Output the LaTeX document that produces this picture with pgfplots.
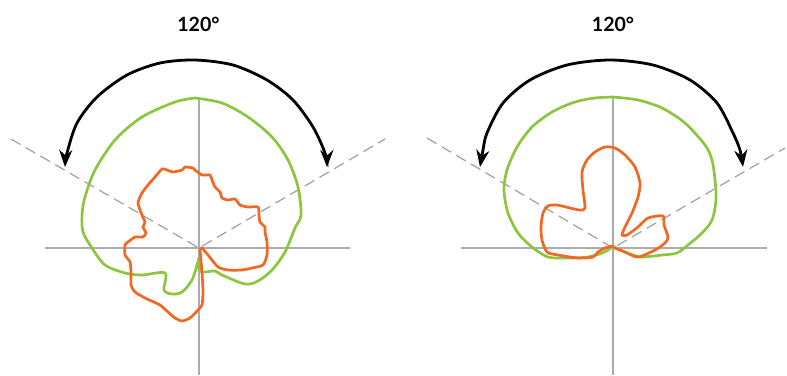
\documentclass[border=0pt]{standalone}
\usepackage{fontspec}
\setmainfont{Lato}
\usepackage{pgfplots}
\pgfplotsset{compat=1.18}
\usetikzlibrary{arrows.meta}

\definecolor{patgreen}{RGB}{140,198,63}
\definecolor{patorange}{RGB}{242,103,34}
\definecolor{axgray}{RGB}{172,172,172}
\definecolor{dashgray}{RGB}{160,160,160}

\begin{document}
\begin{tikzpicture}
\begin{axis}[
    width=393.5pt, height=187.5pt,
    scale only axis,
    xmin=0, xmax=787,
    ymin=0, ymax=375,
    y dir=reverse,
    hide axis,
    clip=false,
]

% frame of the picture (invisible)
\addplot[draw=none, forget plot] coordinates {(0,0) (787,375)};

% ---- left pattern ----
\addplot[axgray, line width=0.8pt] coordinates {(45,248) (350,248)};
\addplot[axgray, line width=0.8pt] coordinates {(199,97) (199,375)};
\addplot[dashgray, line width=0.6pt, dash pattern=on 5.5pt off 3pt]
    coordinates {(11,139) (199,248) (385,139)};

\addplot[patgreen, line width=1.35pt, smooth, tension=0.5] coordinates {
    (195,98) (222,103) (248,117) (272,137) (288,160) (298,187) (301,215)
    (295,228) (285,252) (272,270) (258,281) (245,284) (222,275) (215,271)
    (202,272) (199,266) (199,257) (198,262) (192,280) (182,292) (172,294)
    (164,290) (165,273) (142,275) (125,273) (105,265) (92,248) (83,232)
    (82,215) (85,197) (95,170) (115,140) (142,117) (175,102) (195,98)
};

\addplot[patorange, line width=1.35pt, smooth, tension=0.35] coordinates {
    (200,250) (202,248) (208,255) (218,267) (228,270) (242,270) (252,268)
    (263,265) (267,255) (267,242) (265,232) (265,227) (260,222) (259,215)
    (258,207) (248,207) (240,205) (235,199) (228,200) (222,198) (220,192)
    (215,187) (212,180) (210,175) (202,175) (195,170) (193,168) (185,167)
    (182,170) (173,172) (167,170) (162,169) (155,177) (148,185) (142,193)
    (138,203) (142,215) (145,222) (143,227) (146,233) (143,237) (135,237)
    (128,242) (125,245) (125,255) (130,262) (131,272) (131,285) (135,292)
    (145,298) (160,305) (168,312) (175,318) (182,321) (190,318) (198,310)
    (202,305) (203,292) (202,272) (200,250)
};

\addplot[black, line width=1.4pt, smooth,
    {Stealth[length=8.5pt,width=6.5pt]}-{Stealth[length=8.5pt,width=6.5pt]}] coordinates {
    (65,167) (67,153) (77,123) (97,97) (127,75) (160,63) (195,60) (233,65)
    (267,80) (293,100) (313,127) (325,153) (327,167)
};

\node[font=\fontsize{9.8}{12}\selectfont\bfseries] at (axis cs:198.5,24) {120°};

% ---- right pattern ----
\addplot[axgray, line width=0.8pt] coordinates {(461,248) (767,248)};
\addplot[axgray, line width=0.8pt] coordinates {(613,97) (613,375)};
\addplot[dashgray, line width=0.6pt, dash pattern=on 5.5pt off 3pt]
    coordinates {(427,138) (613,248) (785,148)};

\addplot[patgreen, line width=1.35pt, smooth, tension=0.5] coordinates {
    (613,97) (638,100) (662,108) (685,123) (705,145) (712,160) (715,180)
    (716,200) (712,220) (702,233) (688,245) (677,253) (662,255) (642,257)
    (630,254) (620,250) (613,247) (608,250) (602,253) (588,257) (568,258)
    (548,257) (532,247) (518,233) (508,213) (504,190) (507,170) (517,147)
    (532,127) (552,112) (575,102) (595,98) (613,97)
};

\addplot[patorange, line width=1.35pt, smooth, tension=0.45] coordinates {
    (613,246) (605,248) (598,252) (593,257) (578,258) (558,255) (547,252)
    (542,240) (541,227) (543,213) (548,206) (557,205) (570,208) (580,210)
    (585,208) (583,190) (582,172) (587,160) (595,152) (605,147) (615,148)
    (625,155) (635,167) (640,183) (638,197) (632,213) (625,227) (622,235)
    (627,235) (638,227) (648,218) (663,216) (664,225) (668,237) (665,243)
    (655,250) (638,257) (625,252) (615,248) (613,246)
};

\addplot[black, line width=1.4pt, smooth,
    {Stealth[length=8.5pt,width=6.5pt]}-{Stealth[length=8.5pt,width=6.5pt]}] coordinates {
    (480,167) (483,150) (487,133) (503,103) (530,80) (567,65) (610,60)
    (653,65) (690,80) (717,103) (733,133) (740,150) (743,167)
};

\node[font=\fontsize{9.8}{12}\selectfont\bfseries] at (axis cs:613,24) {120°};

\end{axis}
\end{tikzpicture}
\end{document}
